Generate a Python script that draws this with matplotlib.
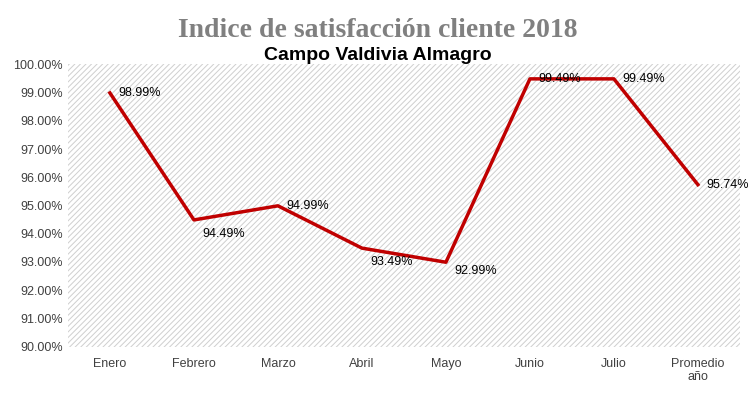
import matplotlib
matplotlib.use("Agg")
import matplotlib.pyplot as plt
from matplotlib.ticker import FuncFormatter
import matplotlib.patches as mpatches

months = ["Enero", "Febrero", "Marzo", "Abril", "Mayo", "Junio", "Julio", "Promedio\naño"]
values = [98.99, 94.49, 94.99, 93.49, 92.99, 99.49, 99.49, 95.74]

plt.rcParams['font.family'] = ['Liberation Sans', 'DejaVu Sans']
plt.rcParams['hatch.color'] = '#cfcfcf'
plt.rcParams['hatch.linewidth'] = 0.7

fig = plt.figure(figsize=(7.55, 4.03), dpi=100)
ax = fig.add_axes([0.09, 0.14, 0.89, 0.70])

# hatched background like the excel pattern fill
bg = mpatches.Rectangle((0, 0), 1, 1, transform=ax.transAxes, facecolor='white',
                        edgecolor='#cfcfcf', hatch='//////', linewidth=0, zorder=0)
ax.add_patch(bg)

x = range(len(months))
ax.plot(x, values, color='#c00000', linewidth=2.5, zorder=3)
for i, v in enumerate(values):
    dy = -0.5 if i in (1, 3) else (-0.3 if i == 4 else 0)
    ax.text(i + 0.1, v + dy, f"{v:.2f}%", fontsize=9, va='center', ha='left', zorder=4)

ax.set_ylim(90, 100)
ax.set_xlim(-0.5, len(months) - 0.5)
ax.set_yticks([90 + i for i in range(11)])
ax.yaxis.set_major_formatter(FuncFormatter(lambda v, p: f"{v:.2f}%"))
ax.set_xticks(list(x))
ax.set_xticklabels(months)
ax.tick_params(axis='both', labelsize=9, length=0, colors='#404040')
ax.tick_params(axis='x', pad=8)
for s in ax.spines.values():
    s.set_visible(False)

fig.text(0.5, 0.925, "Indice de satisfacción cliente 2018", ha='center', va='center',
         fontsize=20, fontweight='bold', color='#808080', family='Liberation Serif')
fig.text(0.5, 0.862, "Campo Valdivia Almagro", ha='center', va='center',
         fontsize=14, fontweight='bold', color='black')

fig.savefig("out.png", dpi=100)
